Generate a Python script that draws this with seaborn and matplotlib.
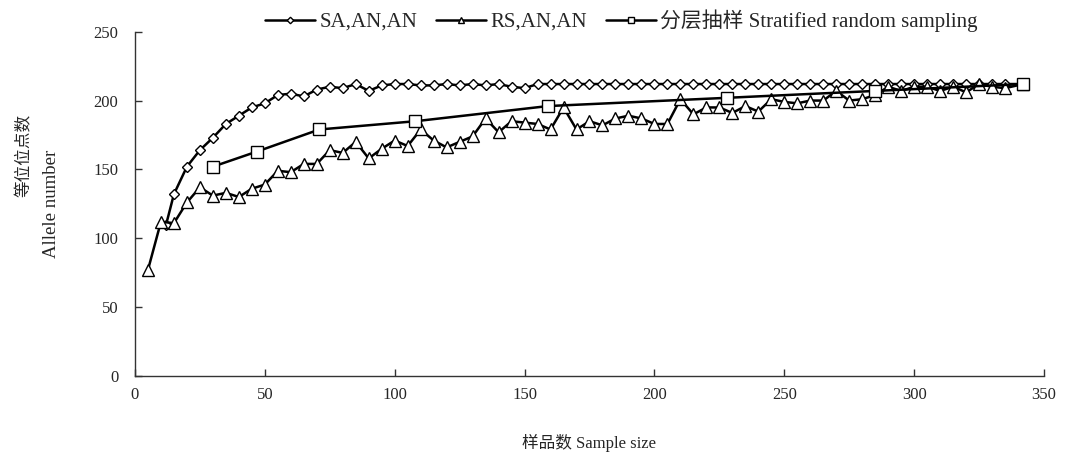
import matplotlib
matplotlib.use("Agg")
import matplotlib.pyplot as plt
import seaborn as sns
import pandas as pd

# data
sa_x = [12, 15, 20, 25, 30, 35, 40, 45, 50, 55, 60, 65, 70, 75, 80, 85, 90, 95,
        100, 105, 110, 115, 120, 125, 130, 135, 140, 145, 150, 155, 160, 165, 170,
        175, 180, 185, 190, 195, 200, 205, 210, 215, 220, 225, 230, 235, 240, 245,
        250, 255, 260, 265, 270, 275, 280, 285, 290, 295, 300, 305, 310, 315, 320,
        325, 330, 335, 342]
sa_y = [110, 132, 152, 164, 173, 183, 189, 195, 198, 204, 205, 203, 208, 210, 209, 212, 207, 211,
        212, 212, 211, 211, 212, 211, 212, 211, 212, 210, 209, 212, 212, 212, 212,
        212, 212, 212, 212, 212, 212, 212, 212, 212, 212, 212, 212, 212, 212, 212,
        212, 212, 212, 212, 212, 212, 212, 212, 212, 212, 212, 212, 212, 212, 212,
        212, 212, 212, 212]

rs_x = [5, 10, 15, 20, 25, 30, 35, 40, 45, 50, 55, 60, 65, 70, 75, 80, 85, 90, 95,
        100, 105, 110, 115, 120, 125, 130, 135, 140, 145, 150, 155, 160, 165, 170,
        175, 180, 185, 190, 195, 200, 205, 210, 215, 220, 225, 230, 235, 240, 245,
        250, 255, 260, 265, 270, 275, 280, 285, 290, 295, 300, 305, 310, 315, 320,
        325, 330, 335, 342]
rs_y = [77, 112, 111, 126, 137, 131, 133, 130, 136, 139, 149, 148, 154, 154, 164, 162, 170, 158, 165,
        171, 167, 179, 171, 166, 170, 174, 187, 177, 185, 184, 183, 179, 195, 179,
        185, 182, 187, 189, 187, 183, 183, 201, 190, 195, 195, 191, 196, 192, 201,
        199, 198, 200, 200, 207, 200, 201, 204, 210, 207, 210, 210, 207, 210, 206,
        212, 210, 209, 212]

st_x = [30, 47, 71, 108, 159, 228, 285, 342]
st_y = [152, 163, 179, 185, 196, 202, 207, 212]

labels = ["SA,AN,AN", "RS,AN,AN", "分层抽样 Stratified random sampling"]

sns.set_style("ticks")
plt.rcParams['font.family'] = ['Liberation Serif', 'Noto Sans CJK SC']
plt.rcParams['font.size'] = 12

fig = plt.figure(figsize=(10.66, 4.62), dpi=100)
ax = fig.add_axes([0.1266, 0.1861, 0.8528, 0.7453])

sa = pd.DataFrame({"x": sa_x, "y": sa_y})
rs = pd.DataFrame({"x": rs_x, "y": rs_y})
st = pd.DataFrame({"x": st_x, "y": st_y})

sns.lineplot(data=sa, x="x", y="y", ax=ax, color="black", lw=1.8, marker="D",
             markersize=5.5, markerfacecolor="white", markeredgecolor="black",
             markeredgewidth=1, label=labels[0])
sns.lineplot(data=rs, x="x", y="y", ax=ax, color="black", lw=1.8, marker="^",
             markersize=8, markerfacecolor="white", markeredgecolor="black",
             markeredgewidth=1, label=labels[1])
sns.lineplot(data=st, x="x", y="y", ax=ax, color="black", lw=1.8, marker="s",
             markersize=8, markerfacecolor="white", markeredgecolor="black",
             markeredgewidth=1, label=labels[2])

ax.set_xlim(0, 350)
ax.set_ylim(0, 250)
ax.set_xticks(range(0, 351, 50))
ax.set_yticks(range(0, 251, 50))
ax.tick_params(direction="in", length=5, width=1, labelsize=12, color="#333333")
ax.tick_params(axis="x", pad=8)
ax.tick_params(axis="y", pad=12)
for s in ["top", "right"]:
    ax.spines[s].set_visible(False)
for s in ["left", "bottom"]:
    ax.spines[s].set_color("#333333")
    ax.spines[s].set_linewidth(1)

ax.set_xlabel("样品数 Sample size", fontsize=12, labelpad=22)
ax.set_ylabel("")
fig.text(25 / 1066, 1 - 155 / 462, "等位位点数", rotation=90, ha="center", va="center", fontsize=12)
fig.text(51 / 1066, 1 - 204 / 462, "Allele number", rotation=90, ha="center", va="center", fontsize=13.5)

leg = ax.legend(loc="lower center", bbox_to_anchor=(0.535, 0.975), ncol=3,
                frameon=False, fontsize=15, handlelength=2.4, columnspacing=0.9,
                handletextpad=0.2, borderaxespad=0, markerscale=0.6)

fig.savefig("out.png", dpi=100)
